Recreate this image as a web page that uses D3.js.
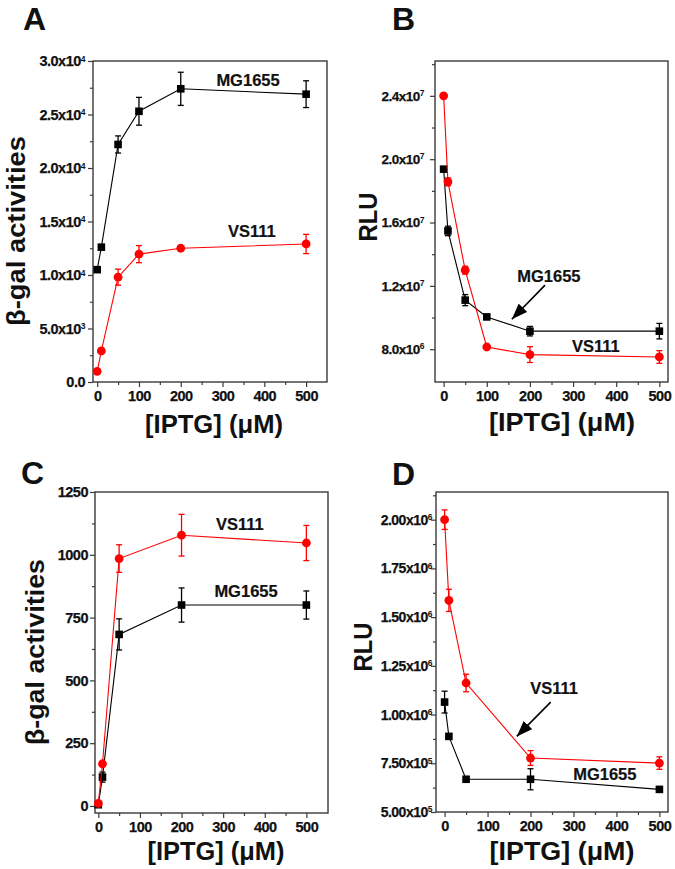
<!DOCTYPE html>
<html><head><meta charset="utf-8">
<script src="https://cdn.jsdelivr.net/npm/d3@7"></script>
<style>
body{margin:0;background:#fff}
text{font-family:"Liberation Sans",Arial,Helvetica,sans-serif;font-weight:bold;fill:#111}
</style>
</head><body>
<svg id="c" width="675" height="869"></svg>
<script>
// ---------- data ----------
const iptgAB = [0, 10, 50, 100, 200, 500];
const iptgCD = [0, 10, 50, 200, 500];
const xTicks = [0, 100, 200, 300, 400, 500];
const xMinor = [50, 150, 250, 350, 450];

// Panel A: beta-gal activities
const mgA    = [10500, 12600, 22200, 25300, 27400, 26900];
const mgAErr = [0, 0, 800, 1300, 1550, 1250];
const vsA    = [1000, 2900, 9800, 11950, 12500, 12900];
const vsAErr = [0, 0, 750, 800, 200, 900];
const yTicksA = [0, 5000, 10000, 15000, 20000, 25000, 30000];
const yLabelsA = ["0.0", "5.0x10^3", "1.0x10^4", "1.5x10^4", "2.0x10^4", "2.5x10^4", "3.0x10^4"];
const yMinorA = [2500, 7500, 12500, 17500, 22500, 27500];

// Panel B: RLU
const mgB    = [19370000, 15470000, 11100000, 10040000, 9140000, 9140000];
const mgBErr = [0, 300000, 350000, 150000, 300000, 490000];
const vsB    = [24000000, 18570000, 12990000, 8140000, 7660000, 7510000];
const vsBErr = [0, 250000, 250000, 100000, 500000, 400000];
const yTicksB = [8000000, 12000000, 16000000, 20000000, 24000000];
const yLabelsB = ["8.0x10^6", "1.2x10^7", "1.6x10^7", "2.0x10^7", "2.4x10^7"];
const yMinorB = [10000000, 14000000, 18000000, 22000000, 26000000];

// Panel C: beta-gal activities
const vsC    = [10, 168, 985, 1078, 1047];
const vsCErr = [0, 0, 55, 83, 70];
const mgC    = [5, 115, 683, 800, 800];
const mgCErr = [0, 20, 62, 68, 56];
const yTicksC = [0, 250, 500, 750, 1000, 1250];
const yLabelsC = ["0", "250", "500", "750", "1000", "1250"];
const yMinorC = [125, 375, 625, 875, 1125];

// Panel D: RLU
const vsD    = [2000000, 1586000, 1162000, 777000, 751000];
const vsDErr = [50000, 57000, 45000, 38000, 32000];
const mgD    = [1064000, 888000, 668000, 668000, 616000];
const mgDErr = [56000, 0, 0, 54000, 0];
const yTicksD = [500000, 750000, 1000000, 1250000, 1500000, 1750000, 2000000];
const yLabelsD = ["5.00x10^5", "7.50x10^5", "1.00x10^6", "1.25x10^6", "1.50x10^6", "1.75x10^6", "2.00x10^6"];
const yMinorD = [625000, 875000, 1125000, 1375000, 1625000, 1875000, 2125000];

// ---------- drawing ----------
const svg = d3.select("#c");
const BLACK = "#000", RED = "#ff0000";

const defs = svg.append("defs");
defs.append("marker").attr("id", "ah").attr("markerUnits", "userSpaceOnUse")
  .attr("viewBox", "0 0 16 12").attr("refX", 16).attr("refY", 6)
  .attr("markerWidth", 16).attr("markerHeight", 12).attr("orient", "auto")
  .append("path").attr("d", "M0,0 L16,6 L0,12 Z").attr("fill", "#000");

function panel(cfg) {
  const g = svg.append("g");
  const x = d3.scaleLinear().domain(cfg.xDomain).range([cfg.left, cfg.right]);
  const y = d3.scaleLinear().domain(cfg.yDomain).range([cfg.bottom, cfg.top]);

  // frame
  g.append("rect").attr("x", cfg.left).attr("y", cfg.top)
    .attr("width", cfg.right - cfg.left).attr("height", cfg.bottom - cfg.top)
    .attr("fill", "none").attr("stroke", "#3a3a3a").attr("stroke-width", 1.4);

  // x axis
  const xa = g.append("g").attr("transform", `translate(0,${cfg.bottom})`)
    .call(d3.axisBottom(x).tickValues(xTicks).tickSize(5).tickSizeOuter(0).tickPadding(4));
  xa.select(".domain").remove();
  xa.selectAll("line").attr("stroke", "#3a3a3a").attr("stroke-width", 1.2);
  xa.selectAll("text").attr("font-size", 14.5).attr("fill", "#111")
    .attr("font-family", null).attr("dy", "0.72em").attr("letter-spacing", "-0.5")
    .attr("stroke", "#111").attr("stroke-width", 0.25);
  const xm = g.append("g").attr("transform", `translate(0,${cfg.bottom})`)
    .call(d3.axisBottom(x).tickValues(xMinor).tickSize(3).tickSizeOuter(0).tickFormat(""));
  xm.select(".domain").remove();
  xm.selectAll("line").attr("stroke", "#3a3a3a").attr("stroke-width", 1.2);

  // y axis
  const ya = g.append("g").attr("transform", `translate(${cfg.left},0)`)
    .call(d3.axisLeft(y).tickValues(cfg.yTicks).tickSize(5).tickSizeOuter(0).tickFormat(""));
  ya.select(".domain").remove();
  ya.selectAll("line").attr("stroke", "#3a3a3a").attr("stroke-width", 1.2);
  const ym = g.append("g").attr("transform", `translate(${cfg.left},0)`)
    .call(d3.axisLeft(y).tickValues(cfg.yMinor).tickSize(3).tickSizeOuter(0).tickFormat(""));
  ym.select(".domain").remove();
  ym.selectAll("line").attr("stroke", "#3a3a3a").attr("stroke-width", 1.2);

  cfg.yTicks.forEach((v, i) => {
    const parts = cfg.yLabels[i].split("^");
    const t = g.append("text").attr("x", cfg.left - cfg.labelGap).attr("y", y(v))
      .attr("dy", "0.36em").attr("text-anchor", "end")
      .attr("font-size", cfg.tickFont).attr("letter-spacing", "-0.5")
      .attr("stroke", "#111").attr("stroke-width", 0.25);
    t.append("tspan").text(parts[0]);
    if (parts[1]) t.append("tspan").attr("font-size", 8.5).attr("dy", "-0.55em").attr("stroke-width", 0).text(parts[1]);
  });

  // series
  cfg.series.forEach(s => {
    const pts = cfg.xs.map((xv, i) => ({x: xv, y: s.values[i], e: s.err[i]}));
    g.append("path").datum(pts)
      .attr("d", d3.line().x(d => x(d.x)).y(d => y(d.y)))
      .attr("fill", "none").attr("stroke", s.color).attr("stroke-width", 1.1);
    const eb = g.append("g").attr("stroke", s.color).attr("stroke-width", 1.3);
    pts.filter(d => d.e > 0).forEach(d => {
      const cx = x(d.x), y1 = y(d.y - d.e), y2 = y(d.y + d.e);
      eb.append("line").attr("x1", cx).attr("x2", cx).attr("y1", y1).attr("y2", y2);
      eb.append("line").attr("x1", cx - 3).attr("x2", cx + 3).attr("y1", y1).attr("y2", y1);
      eb.append("line").attr("x1", cx - 3).attr("x2", cx + 3).attr("y1", y2).attr("y2", y2);
    });
    if (s.shape === "square") {
      g.selectAll(null).data(pts).enter().append("rect")
        .attr("x", d => x(d.x) - 3.8).attr("y", d => y(d.y) - 3.8)
        .attr("width", 7.6).attr("height", 7.6).attr("fill", s.color);
    } else {
      g.selectAll(null).data(pts).enter().append("circle")
        .attr("cx", d => x(d.x)).attr("cy", d => y(d.y)).attr("r", 4.4).attr("fill", s.color);
    }
  });

  // series labels
  cfg.notes.forEach(n => {
    g.append("text").attr("x", x(n.x)).attr("y", y(n.y)).attr("text-anchor", "middle")
      .attr("font-size", 16.5).attr("stroke", "#111").attr("stroke-width", 0.2).text(n.text);
  });
  // arrows
  (cfg.arrows || []).forEach(a => {
    g.append("line").attr("x1", x(a.x1)).attr("y1", y(a.y1)).attr("x2", x(a.x2)).attr("y2", y(a.y2))
      .attr("stroke", "#000").attr("stroke-width", 1.6).attr("marker-end", "url(#ah)");
  });

  // axis titles
  g.append("text").attr("x", cfg.xTitle[0]).attr("y", cfg.xTitle[1]).attr("text-anchor", "middle")
    .attr("font-size", 25).attr("textLength", cfg.xTitle[2]).attr("lengthAdjust", "spacingAndGlyphs")
    .text("[IPTG] (\u03BCM)");
  g.append("text").attr("transform", `translate(${cfg.yTitle[0]},${cfg.yTitle[1]}) rotate(-90)`)
    .attr("text-anchor", "middle").attr("font-size", 25)
    .attr("textLength", cfg.yTitle[2]).attr("lengthAdjust", "spacingAndGlyphs")
    .text(cfg.yTitleText);
  // panel letter
  g.append("text").attr("x", cfg.letter[0]).attr("y", cfg.letter[1]).attr("font-size", 32)
    .text(cfg.letterText);
}

panel({
  letterText: "A", letter: [23, 30],
  left: 93, right: 327, top: 61, bottom: 382,
  xDomain: [-10, 550], yDomain: [0, 30000],
  xs: iptgAB, yTicks: yTicksA, yLabels: yLabelsA, yMinor: yMinorA,
  tickFont: 14.5, labelGap: 8,
  series: [
    {values: mgA, err: mgAErr, color: BLACK, shape: "square"},
    {values: vsA, err: vsAErr, color: RED, shape: "circle"}
  ],
  notes: [{text: "MG1655", x: 361, y: 27650}, {text: "VS111", x: 370, y: 13550}],
  xTitle: [214, 433, 138], yTitle: [25, 231, 190], yTitleText: "\u03B2-gal activities"
});

panel({
  letterText: "B", letter: [392, 30],
  left: 435, right: 668, top: 61, bottom: 382,
  xDomain: [-20, 520], yDomain: [5930000, 26200000],
  xs: iptgAB, yTicks: yTicksB, yLabels: yLabelsB, yMinor: yMinorB,
  tickFont: 13.5, labelGap: 11,
  series: [
    {values: mgB, err: mgBErr, color: BLACK, shape: "square"},
    {values: vsB, err: vsBErr, color: RED, shape: "circle"}
  ],
  notes: [{text: "MG1655", x: 244, y: 12240000}, {text: "VS111", x: 353, y: 7820000}],
  arrows: [{x1: 235, y1: 12050000, x2: 158, y2: 9890000}],
  xTitle: [562, 431, 146], yTitle: [377, 217, 49], yTitleText: "RLU"
});

panel({
  letterText: "C", letter: [21, 484],
  left: 95, right: 328, top: 492, bottom: 813,
  xDomain: [-8, 552], yDomain: [-28, 1250],
  xs: iptgCD, yTicks: yTicksC, yLabels: yLabelsC, yMinor: yMinorC,
  tickFont: 14.5, labelGap: 7,
  series: [
    {values: mgC, err: mgCErr, color: BLACK, shape: "square"},
    {values: vsC, err: vsCErr, color: RED, shape: "circle"}
  ],
  notes: [{text: "VS111", x: 340, y: 1098}, {text: "MG1655", x: 355, y: 832}],
  xTitle: [216, 860, 137], yTitle: [44, 652, 186], yTitleText: "\u03B2-gal activities"
});

panel({
  letterText: "D", letter: [392, 485],
  left: 436, right: 668, top: 492, bottom: 812,
  xDomain: [-20, 520], yDomain: [500000, 2142000],
  xs: iptgCD, yTicks: yTicksD, yLabels: yLabelsD, yMinor: yMinorD,
  tickFont: 14, labelGap: 4,
  series: [
    {values: mgD, err: mgDErr, color: BLACK, shape: "square"},
    {values: vsD, err: vsDErr, color: RED, shape: "circle"}
  ],
  notes: [{text: "VS111", x: 255, y: 1105000}, {text: "MG1655", x: 373, y: 664000}],
  arrows: [{x1: 247, y1: 1064000, x2: 168, y2: 888000}],
  xTitle: [562, 860, 145], yTitle: [372, 647, 49], yTitleText: "RLU"
});
</script>
</body></html>
